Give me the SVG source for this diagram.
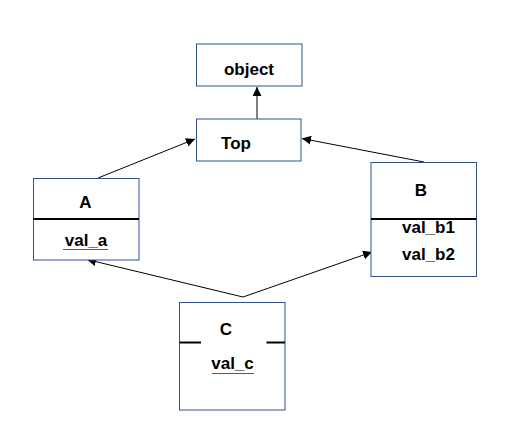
<svg xmlns="http://www.w3.org/2000/svg" width="521" height="425" viewBox="0 0 521 425">
<style>
.box{fill:#fff;stroke:#2F528F;stroke-width:1}
.div{stroke:#000;stroke-width:2}
.t{font-family:"Liberation Sans",Arial,sans-serif;font-weight:bold;font-size:17px;fill:#000;text-anchor:middle}
.c{stroke:#000;stroke-width:1;fill:none}
.sq{stroke:#E02020;stroke-width:1;fill:none}
</style>
<defs>
<marker id="ah" viewBox="0 0 10 10" refX="10" refY="5" markerWidth="9" markerHeight="9" markerUnits="userSpaceOnUse" orient="auto">
<path d="M0,0 L10,5 L0,10 Z" fill="#000"/>
</marker>
</defs>
<rect width="521" height="425" fill="#fff"/>
<g id="connectors">
<line class="c" x1="257" y1="119" x2="257" y2="87" marker-end="url(#ah)"/>
<line class="c" x1="98" y1="178" x2="195" y2="139" marker-end="url(#ah)"/>
<line class="c" x1="424" y1="162" x2="302" y2="138.5" marker-end="url(#ah)"/>
<line class="c" x1="243" y1="297" x2="87" y2="259.5" marker-end="url(#ah)"/>
<line class="c" x1="243" y1="297" x2="372" y2="252" marker-end="url(#ah)"/>
</g>
<g id="object">
<rect class="box" x="196.5" y="44" width="105.5" height="42"/>
<text class="t" x="249" y="75">object</text>
</g>
<g id="Top">
<rect class="box" x="196.5" y="119" width="104.5" height="42"/>
<text class="t" x="236" y="149">Top</text>
</g>
<g id="A">
<rect class="box" x="33.5" y="178.5" width="105.5" height="81.5"/>
<line class="div" x1="33.5" y1="219" x2="139" y2="219"/>
<text class="t" x="85.5" y="208">A</text>
<text class="t" x="86" y="246">val_a</text>
<path class="sq" d="M63,249 l1,1 l1,-1 l1,1 l1,-1 l1,1 l1,-1 l1,1 l1,-1 l1,1 l1,-1 l1,1 l1,-1 l1,1 l1,-1 l1,1 l1,-1 l1,1 l1,-1 l1,1 l1,-1 l1,1 l1,-1 l1,1 l1,-1 l1,1 l1,-1 l1,1 l1,-1 l1,1 l1,-1 l1,1 l1,-1 l1,1 l1,-1 l1,1 l1,-1 l1,1 l1,-1 l1,1 l1,-1 l1,1 l1,-1 l1,1 l1,-1 l1,1"/>
</g>
<g id="B">
<rect class="box" x="371" y="162.5" width="105.5" height="114"/>
<line class="div" x1="371" y1="219" x2="476.5" y2="219"/>
<text class="t" x="421" y="196">B</text>
<text class="t" x="428.5" y="233">val_b1</text>
<text class="t" x="428.5" y="260">val_b2</text>
</g>
<g id="C">
<rect class="box" x="179.5" y="302.5" width="105.5" height="107.5"/>
<line class="div" x1="179.5" y1="342.5" x2="201" y2="342.5"/>
<line class="div" x1="266.5" y1="342.5" x2="285" y2="342.5"/>
<text class="t" x="226" y="335">C</text>
<text class="t" x="232.5" y="369">val_c</text>
<path class="sq" d="M212,373 l1,1 l1,-1 l1,1 l1,-1 l1,1 l1,-1 l1,1 l1,-1 l1,1 l1,-1 l1,1 l1,-1 l1,1 l1,-1 l1,1 l1,-1 l1,1 l1,-1 l1,1 l1,-1 l1,1 l1,-1 l1,1 l1,-1 l1,1 l1,-1 l1,1 l1,-1 l1,1 l1,-1 l1,1 l1,-1 l1,1 l1,-1 l1,1 l1,-1 l1,1 l1,-1 l1,1 l1,-1 l1,1 l1,-1"/>
</g>
</svg>
